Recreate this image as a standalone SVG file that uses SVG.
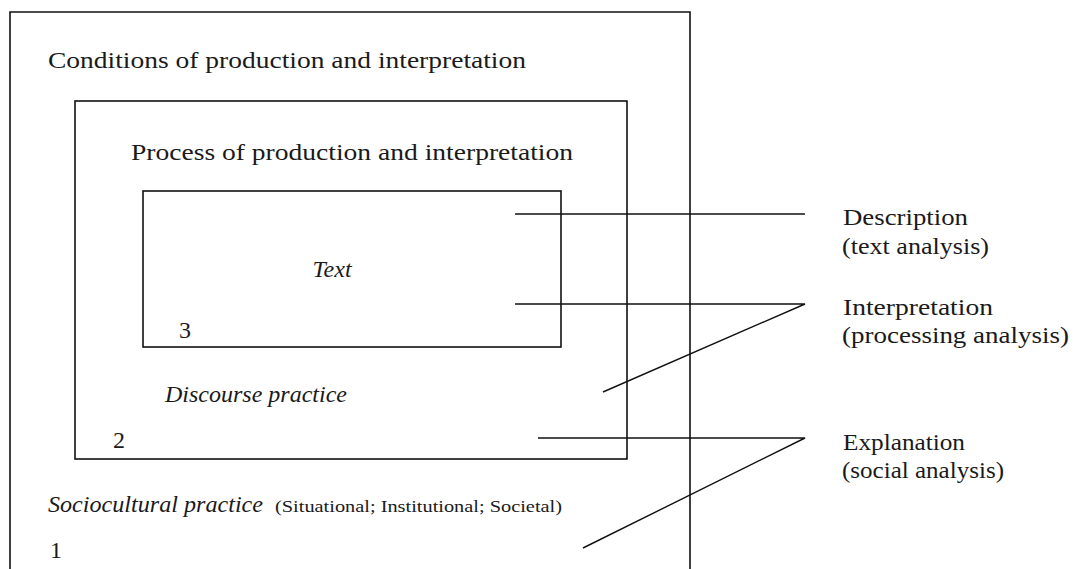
<svg xmlns="http://www.w3.org/2000/svg" width="1075" height="569" viewBox="0 0 1075 569">
<style>
.box{fill:none;stroke:#111;stroke-width:1.6}
.ln{fill:none;stroke:#111;stroke-width:1.4}
text{font-family:"Liberation Serif","DejaVu Serif",serif;fill:#1a1a1a}
.t{font-size:24px}
.it{font-style:italic}
.lab{font-size:23px}
</style>
<rect width="1075" height="569" fill="#fff"/>
<g id="outer">
<path class="box" d="M10,569 V12 H690 V569"/>
<text class="t" x="48" y="68" textLength="478" lengthAdjust="spacingAndGlyphs">Conditions of production and interpretation</text>
<text class="it t" x="48" y="512" textLength="215" lengthAdjust="spacingAndGlyphs">Sociocultural practice</text>
<text x="275" y="512" font-size="17" textLength="287" lengthAdjust="spacingAndGlyphs">(Situational; Institutional; Societal)</text>
<text class="t" x="50" y="558">1</text>
</g>
<g id="middle">
<rect class="box" x="75" y="101" width="552" height="358"/>
<text class="t" x="131" y="160" textLength="442" lengthAdjust="spacingAndGlyphs">Process of production and interpretation</text>
<text class="it t" x="165" y="402" textLength="182" lengthAdjust="spacingAndGlyphs">Discourse practice</text>
<text class="t" x="113" y="448">2</text>
</g>
<g id="inner">
<rect class="box" x="143" y="191" width="418" height="156"/>
<text class="it t" x="332" y="277" text-anchor="middle">Text</text>
<text class="t" x="179" y="338">3</text>
</g>
<g id="connectors">
<path class="ln" d="M515,214 H805"/>
<path class="ln" d="M515,304 H805 L603,392"/>
<path class="ln" d="M538,438 H805 L583,548"/>
</g>
<g id="description">
<text class="lab" x="843" y="225" textLength="125" lengthAdjust="spacingAndGlyphs">Description</text>
<text class="lab" x="842" y="254" textLength="147" lengthAdjust="spacingAndGlyphs">(text analysis)</text>
</g>
<g id="interpretation">
<text class="lab" x="843" y="315" textLength="150" lengthAdjust="spacingAndGlyphs">Interpretation</text>
<text class="lab" x="842" y="343" textLength="227" lengthAdjust="spacingAndGlyphs">(processing analysis)</text>
</g>
<g id="explanation">
<text class="lab" x="843" y="450" textLength="122" lengthAdjust="spacingAndGlyphs">Explanation</text>
<text class="lab" x="842" y="478" textLength="162" lengthAdjust="spacingAndGlyphs">(social analysis)</text>
</g>
</svg>
